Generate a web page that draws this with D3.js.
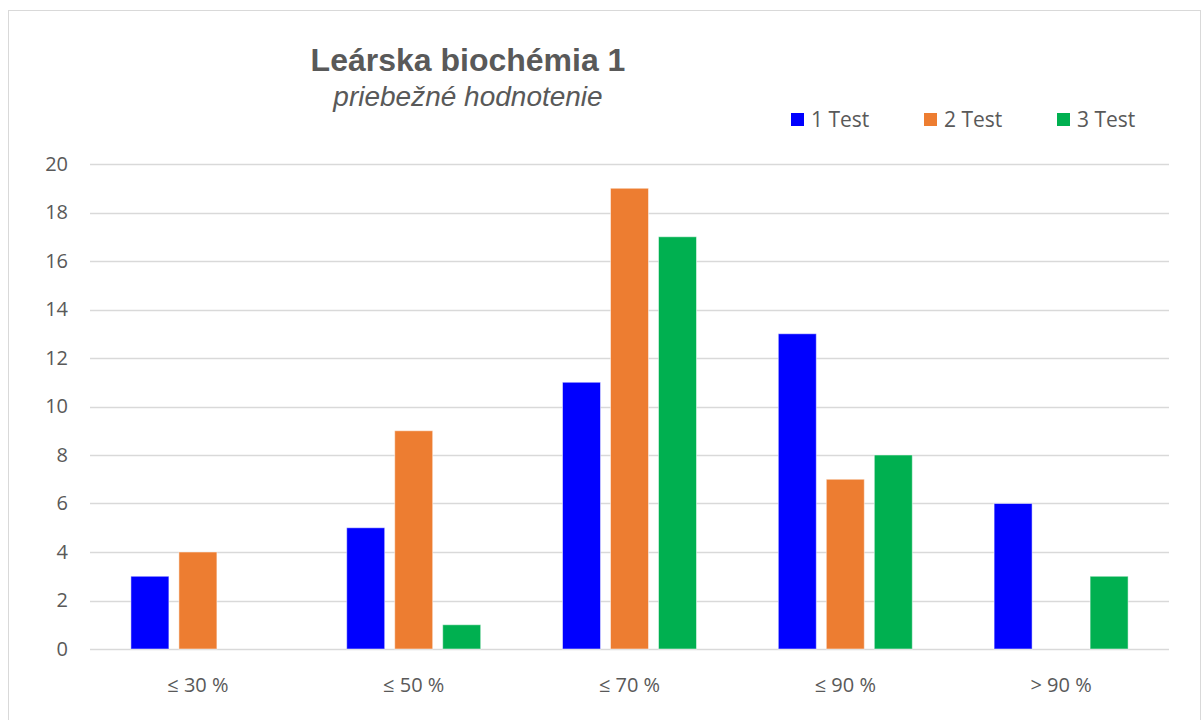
<!doctype html>
<html>
<head>
<meta charset="utf-8">
<script src="https://d3js.org/d3.v7.min.js"></script>
<style>
  body { margin: 0; background: #fff; }
  svg { display: block; }
  .tick text { font-family: "Open Sans", "Noto Sans", sans-serif; font-size: 20px; fill: #595959; }
</style>
</head>
<body>
<svg id="chart" width="1204" height="720"></svg>
<script>
// data
var categories = ["\u2264 30 %", "\u2264 50 %", "\u2264 70 %", "\u2264 90 %", "> 90 %"];
var seriesNames = ["1 Test", "2 Test", "3 Test"];
var test1 = [3, 5, 11, 13, 6];
var test2 = [4, 9, 19, 7, 0];
var test3 = [0, 1, 17, 8, 3];
var yTicks = [0, 2, 4, 6, 8, 10, 12, 14, 16, 18, 20];
var colors = ["#0000ff", "#ed7d31", "#00b050"];

var seriesValues = [test1, test2, test3];

var svg = d3.select("#chart");

// outer frame
svg.append("rect")
  .attr("x", 8.5).attr("y", 10.5)
  .attr("width", 1192).attr("height", 720)
  .attr("fill", "white")
  .attr("stroke", "#d9d9d9").attr("stroke-width", 1);

var plotLeft = 90, plotRight = 1169, plotTop = 164, plotBottom = 649;

var x0 = d3.scaleBand().domain(categories).range([plotLeft, plotRight]).padding(0);
var groupW = 134;
var x1 = d3.scaleBand().domain(seriesNames)
  .range([(x0.bandwidth() - groupW) / 2, (x0.bandwidth() + groupW) / 2])
  .paddingInner(10 / 48).paddingOuter(0);

var y = d3.scaleLinear().domain([0, 20]).range([plotBottom, plotTop]);

// gridlines
svg.append("g").selectAll("line")
  .data(yTicks)
  .join("line")
  .attr("x1", plotLeft).attr("x2", plotRight)
  .attr("y1", d => Math.round(y(d)) + 0.5).attr("y2", d => Math.round(y(d)) + 0.5)
  .attr("stroke", "#d9d9d9").attr("stroke-width", 1.3);

// y axis labels
var yAxis = svg.append("g")
  .attr("transform", "translate(68,0)")
  .call(d3.axisLeft(y).tickValues(yTicks).tickSize(0).tickPadding(0));
yAxis.select(".domain").remove();

// x axis labels
var xAxis = svg.append("g")
  .attr("transform", "translate(0," + (plotBottom + 21) + ")")
  .call(d3.axisBottom(x0).tickSize(0).tickPadding(8));
xAxis.select(".domain").remove();

// bars
var rows = categories.map((c, i) => ({
  cat: c,
  vals: seriesNames.map((s, j) => ({ name: s, value: seriesValues[j][i], color: colors[j] }))
}));

var groups = svg.append("g").selectAll("g")
  .data(rows)
  .join("g")
  .attr("transform", d => "translate(" + x0(d.cat) + ",0)");

groups.selectAll("rect")
  .data(d => d.vals.filter(v => v.value > 0))
  .join("rect")
  .attr("x", d => x1(d.name))
  .attr("width", x1.bandwidth())
  .attr("y", d => y(d.value))
  .attr("height", d => y(0) - y(d.value))
  .attr("fill", d => d.color)
  .attr("stroke", "white").attr("stroke-opacity", 0.5).attr("stroke-width", 1);

// title
svg.append("text")
  .attr("x", 468).attr("y", 71)
  .attr("text-anchor", "middle")
  .style("font-family", "'Liberation Sans', Arial, sans-serif")
  .style("font-weight", "bold").style("font-size", "32px")
  .attr("fill", "#595959")
  .text("Leárska biochémia 1");

svg.append("text")
  .attr("x", 468).attr("y", 106)
  .attr("text-anchor", "middle")
  .style("font-family", "'Liberation Sans', Arial, sans-serif")
  .style("font-style", "italic").style("font-size", "28px")
  .attr("fill", "#595959")
  .text("priebežné hodnotenie");

// legend
var legend = svg.append("g").selectAll("g")
  .data(seriesNames)
  .join("g")
  .attr("transform", (d, i) => "translate(" + (791 + i * 133) + ",113)");

legend.append("rect")
  .attr("width", 13).attr("height", 13)
  .attr("fill", (d, i) => colors[i]);

legend.append("text")
  .attr("x", 20).attr("y", 14)
  .style("font-family", "'Open Sans', 'Noto Sans', sans-serif")
  .style("font-size", "21px")
  .attr("fill", "#595959")
  .text(d => d);
</script>
</body>
</html>
